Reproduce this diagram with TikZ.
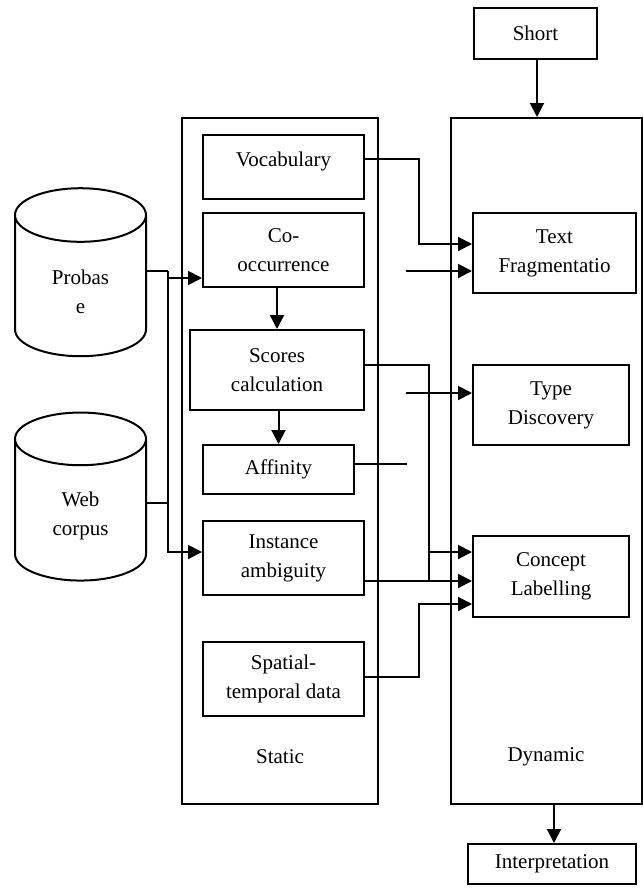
\documentclass[tikz,border=0pt]{standalone}
\usepackage{fontspec}
\setmainfont{Liberation Serif}
\usetikzlibrary{arrows.meta, shapes.geometric}

\begin{document}
\begin{tikzpicture}[x=0.5pt, y=-0.5pt,
	font=\fontsize{10.5}{14.5}\selectfont,
	>={Triangle[length=7pt,width=7pt]},
	box/.style={draw, line width=1pt, align=center, inner sep=1pt},
	cont/.style={draw, line width=1pt},
	db/.style={draw, line width=1pt, cylinder, shape border rotate=90, aspect=0.76,
		align=center, minimum width=65.5pt, minimum height=84pt},
	link/.style={line width=1pt},
	thinlink/.style={line width=0.75pt}]
	\useasboundingbox (0,0) rectangle (643,890);
	
	%containers
	\node[cont, minimum width=98pt, minimum height=343pt]   (static)  at (280,461)   {};
	\node[cont, minimum width=95.5pt, minimum height=343pt] (dynamic) at (546.5,461) {};
	\node (statictxt)  at (280,757) {Static};
	\node (dynamictxt) at (546,757) {Dynamic};
	
	%databases
	\node[db] (probase) at (80.5,292) {Probas\\e};
	\node[db] (web)     at (80.5,516) {Web\\corpus};
	
	%static boxes
	\node[box, minimum width=80.5pt, text height=15.5pt, text depth=16.5pt, inner ysep=0pt] (vocab) at (283.5,167) {Vocabulary};
	\node[box, minimum width=80.5pt, minimum height=37pt]   (cooc)   at (283.5,250) {Co-\\occurrence};
	\node[box, minimum width=87pt,   minimum height=40pt]   (scores) at (277,370)   {Scores\\calculation};
	\node[box, minimum width=75.5pt, minimum height=24.5pt] (affin)  at (278.5,469.5) {Affinity};
	\node[box, minimum width=80.5pt, minimum height=37pt]   (inst)   at (283.5,558) {Instance\\ambiguity};
	\node[box, minimum width=80.5pt, minimum height=37pt]   (spat)   at (283.5,679) {Spatial-\\temporal data};
	
	%dynamic boxes
	\node[box, minimum width=81.5pt, minimum height=40pt]   (frag)    at (554.5,253) {Text\\Fragmentatio};
	\node[box, minimum width=78pt,   minimum height=40pt]   (typedis) at (551,405)   {Type\\Discovery};
	\node[box, minimum width=78pt,   minimum height=40.5pt] (concept) at (551,576.5) {Concept\\Labelling};
	
	%input and output
	\node[box, minimum width=61.5pt, minimum height=25.5pt] (short)  at (535.5,33.5) {Short};
	\node[box, minimum width=84pt,   minimum height=20pt]   (interp) at (552,864)    {Interpretation};
	
	%free ends
	\coordinate (fragfree) at (406,271);
	\coordinate (typefree) at (406,393);
	\coordinate (affinend) at (407,464);
	\coordinate (dbjoin) at (168,271);
	
	%arrows
	\draw[link,->] (short.south -| 537,0) -- (dynamic.north -| 537,0);
	\draw[link,->] (dynamic.south -| 554,0) -- (interp.north -| 554,0);
	\draw[link,->] (cooc.south -| scores.north) -- (scores.north);
	\draw[link,->] (scores.south -| affin.north) -- (affin.north);
	
	%left side
	\draw[link] (probase.east |- dbjoin) -- (dbjoin);
	\draw[link,->] (dbjoin) |- (cooc.west |- 0,278);
	\draw[link,->] (dbjoin) |- (inst.west |- 0,552);
	\draw[link] (web.east |- 0,503) -- (168,503);
	
	%right side
	\draw[link,->] (vocab.east |- 0,159) -| (419,244) -- (frag.west |- 0,244);
	\draw[link,->] (fragfree) -- (frag.west |- fragfree);
	\draw[link,->] (typefree) -- (typedis.west |- typefree);
	\draw[thinlink] (affin.east |- affinend) -- (affinend);
	\draw[thinlink] (scores.east |- 0,365) -| (429,581);
	\draw[link,->] (429,552) -- (concept.west |- 0,552);
	\draw[link,->] (inst.east |- 0,581) -- (concept.west |- 0,581);
	\draw[link,->] (spat.east |- 0,677) -| (419,604) -- (concept.west |- 0,604);
	
\end{tikzpicture}
\end{document}
